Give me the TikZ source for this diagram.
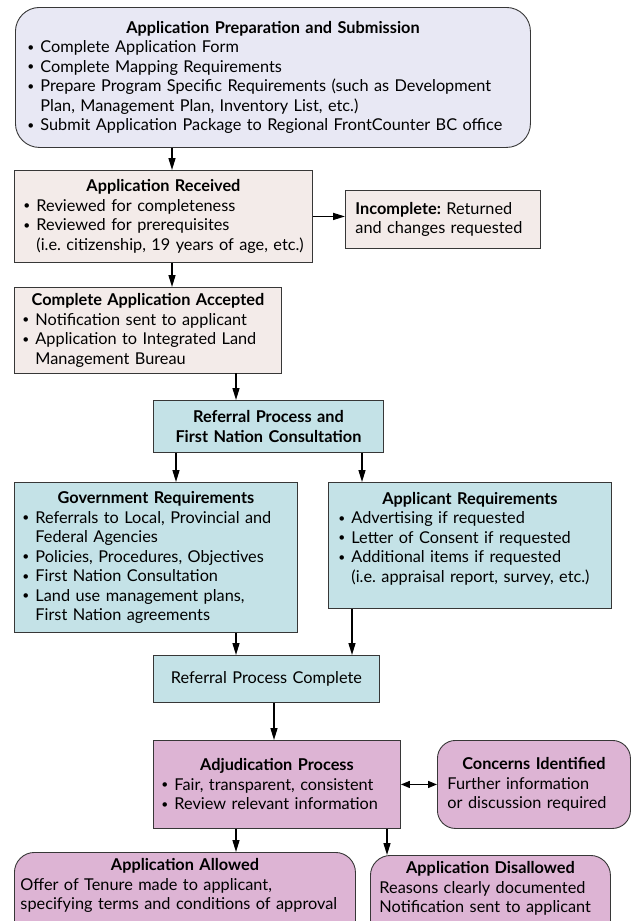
\documentclass[tikz,border=0pt]{standalone}
\usepackage{fontspec}
\setmainfont{Lato}
\usepackage{tikz}
\usepackage{xcolor}
\usetikzlibrary{arrows.meta}

\definecolor{lavfill}{RGB}{232,232,244}
\definecolor{beigefill}{RGB}{243,235,233}
\definecolor{tealfill}{RGB}{196,226,231}
\definecolor{pinkfill}{RGB}{221,180,212}
\definecolor{edgec}{RGB}{55,55,55}

\newcommand{\ttl}[1]{{\centering\bfseries #1\par}}
\newcommand{\bul}[1]{\par\noindent\hangindent=13pt\hangafter=1\makebox[13pt][l]{\raisebox{1.5pt}{\fontsize{12}{12}\selectfont\textbullet}}#1\par}
\newcommand{\padbot}[1]{\par\vskip #1\hrule height 0pt width 0pt}

\tikzset{
    box/.style={draw=edgec,line width=0.9pt,fill=#1,anchor=north west,align=left,
        font=\fontsize{16.3}{19.5}\selectfont\frenchspacing,inner ysep=6pt},
    arr/.style={line width=1.4pt,-{Triangle[length=12pt,width=7pt]}},
    darr/.style={line width=1.4pt,{Triangle[length=9pt,width=7pt]}-{Triangle[length=9pt,width=7pt]}}
}

\begin{document}
\begin{tikzpicture}[x=1pt,y=1pt]
    \useasboundingbox (0,0) rectangle (634,-921);
    % boxes
    \node [box=lavfill,rounded corners=24pt,inner xsep=12pt,text width=491pt,minimum height=140pt] (prep) at (15,-7) {
        \ttl{Application Preparation and Submission}
        \bul{Complete Application Form}
        \bul{Complete Mapping Requirements}
        \bul{Prepare Program Specific Requirements (such as Development\newline Plan, Management Plan, Inventory List, etc.)}
        \bul{Submit Application Package to Regional FrontCounter BC office}};
    \node [box=beigefill,inner xsep=9pt,text width=280pt,minimum height=92pt] (recv) at (14,-170) {
        \ttl{Application Received}
        \bul{Reviewed for completeness}
        \bul{Reviewed for prerequisites\newline \mbox{(i.e. citizenship, 19 years of age, etc.)}}};
    \node [box=beigefill,inner xsep=10pt,text width=175pt,minimum height=58pt] (inc) at (345,-190) {
        \textbf{Incomplete:} Returned\newline and changes requested};
    \node [box=beigefill,inner xsep=8pt,text width=251pt,minimum height=85pt] (acc) at (14,-287) {
        \ttl{Complete Application Accepted}
        \bul{Notification sent to applicant}
        \bul{Application to Integrated Land\newline Management Bureau}};
    \node [box=tealfill,inner xsep=8pt,text width=214pt,minimum height=52pt] (ref) at (153,-400) {
        \ttl{Referral Process and\\First Nation Consultation}};
    \node [box=tealfill,inner xsep=8pt,text width=267pt,minimum height=150pt] (gov) at (14,-482) {
        \ttl{Government Requirements}
        \bul{Referrals to Local, Provincial and\newline Federal Agencies}
        \bul{Policies, Procedures, Objectives}
        \bul{First Nation Consultation}
        \bul{Land use management plans,\newline First Nation agreements}};
    \node [box=tealfill,inner xsep=10pt,text width=263pt,minimum height=126pt] (appl) at (328,-482) {
        \ttl{Applicant Requirements}
        \bul{Advertising if requested}
        \bul{Letter of Consent if requested}
        \bul{Additional items if requested\newline (i.e. appraisal report, survey, etc.)}
        \padbot{14pt}};
    \node [box=tealfill,inner xsep=8pt,text width=210pt,minimum height=47pt] (done) at (153,-655) {
        {\centering Referral Process Complete\par}};
    \node [box=pinkfill,inner xsep=8pt,text width=231pt,minimum height=88pt] (adj) at (153,-740) {
        \ttl{Adjudication Process}
        \bul{Fair, transparent, consistent}
        \bul{Review relevant information}};
    \node [box=pinkfill,rounded corners=18pt,inner xsep=10pt,text width=173pt,minimum height=88pt] (conc) at (437,-740) {
        \ttl{Concerns Identified}
        Further information\newline or discussion required};
    \node [box=pinkfill,rounded corners=20pt,inner xsep=6pt,text width=329pt] (allow) at (14,-852) {
        \ttl{Application Allowed}
        Offer of Tenure made to applicant,\newline specifying terms and conditions of approval
        \padbot{30pt}};
    \node [box=pinkfill,rounded corners=20pt,inner xsep=9pt,text width=222pt] (disal) at (370,-855) {
        \ttl{Application Disallowed}
        Reasons clearly documented\newline Notification sent to applicant
        \padbot{30pt}};
    % arrows
    \draw [arr] (prep.south -| 172,0) -- (recv.north -| 172,0);
    \draw [arr] (recv.east) -- (recv.east -| inc.west);
    \draw [arr] (recv.south -| 172,0) -- (acc.north -| 172,0);
    \draw [arr] (acc.south -| 236,0) -- (ref.north -| 236,0);
    \draw [arr] (ref.south -| 176,0) -- (gov.north -| 176,0);
    \draw [arr] (ref.south -| 362,0) -- (appl.north -| 362,0);
    \draw [arr] (gov.south -| 236,0) -- (done.north -| 236,0);
    \draw [arr] (appl.south -| 352,0) -- (done.north -| 352,0);
    \draw [arr] (done.south -| 274,0) -- (adj.north -| 274,0);
    \draw [darr] (adj.east) -- (adj.east -| conc.west);
    \draw [arr] (adj.south -| 236,0) -- (allow.north -| 236,0);
    \draw [arr] (adj.south -| 387,0) -- (disal.north -| 387,0);
\end{tikzpicture}
\end{document}
